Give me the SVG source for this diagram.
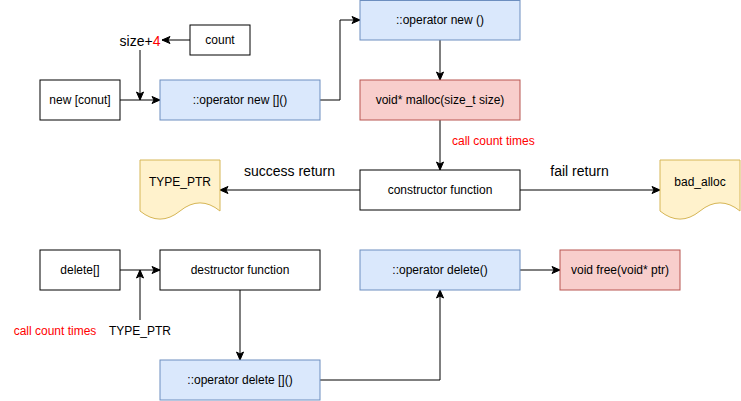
<svg xmlns="http://www.w3.org/2000/svg" width="741" height="401" viewBox="0 0 741 401">
<style>
text{font-family:"Liberation Sans",Arial,sans-serif;font-size:12px;fill:#000;}
.c{text-anchor:middle;dominant-baseline:central;}
.lg{font-size:14px;}
.red{fill:#ff0000;}
.plain{fill:#ffffff;stroke:#000000;stroke-width:1;}
.blue{fill:#dae8fc;stroke:#6c8ebf;stroke-width:1;}
.pink{fill:#f8cecc;stroke:#b85450;stroke-width:1;}
.doc{fill:#fff2cc;stroke:#d6b656;stroke-width:1;}
.edge{fill:none;stroke:#000;stroke-width:1;marker-end:url(#arr);}
</style>
<defs>
<marker id="arr" markerUnits="userSpaceOnUse" markerWidth="10" markerHeight="10" refX="9" refY="5" orient="auto">
<path d="M1,1.5 L9,5 L1,8.5 L3,5 Z" fill="#000" stroke="#000" stroke-width="1"/>
</marker>
</defs>
<rect width="741" height="401" fill="#ffffff"/>
<g id="connectors">
<path class="edge" d="M190,40 L162,40"/>
<path class="edge" d="M140,50 L140,100"/>
<path class="edge" d="M120,100 L160,100"/>
<path class="edge" d="M320,100 L340,100 L340,20 L360,20"/>
<path class="edge" d="M440,40 L440,80"/>
<path class="edge" d="M440,120 L440,170"/>
<path class="edge" d="M360,190 L220,190"/>
<path class="edge" d="M520,190 L660,190"/>
<path class="edge" d="M120,270 L160,270"/>
<path class="edge" d="M140,320 L140,270"/>
<path class="edge" d="M240,290 L240,360"/>
<path class="edge" d="M320,380 L440,380 L440,290"/>
<path class="edge" d="M520,270 L560,270"/>
</g>
<g id="labels">
<text class="lg" x="140" y="46" text-anchor="middle">size+<tspan class="red">4</tspan></text>
<text class="red" x="452" y="145">call count times</text>
<text class="c lg" x="289.5" y="171">success return</text>
<text class="c lg" x="579.5" y="171">fail return</text>
<text class="c red" x="55" y="331">call count times</text>
<text class="c" x="140" y="331">TYPE_PTR</text>
</g>
<g id="node-count"><rect class="plain" x="190" y="25" width="60" height="30"/><text class="c" x="220" y="40">count</text></g>
<g id="node-new-conut"><rect class="plain" x="40" y="80" width="80" height="40"/><text class="c" x="80" y="100">new [conut]</text></g>
<g id="node-operator-new-array"><rect class="blue" x="160" y="80" width="160" height="40"/><text class="c" x="240" y="100">::operator new []()</text></g>
<g id="node-operator-new"><rect class="blue" x="360" y="0.5" width="160" height="39.5"/><text class="c" x="440" y="20">::operator new ()</text></g>
<g id="node-malloc"><rect class="pink" x="360" y="80" width="160" height="40"/><text class="c" x="440" y="100">void* malloc(size_t size)</text></g>
<g id="node-constructor"><rect class="plain" x="360" y="170" width="160" height="40"/><text class="c" x="440" y="190">constructor function</text></g>
<g id="node-type-ptr"><path class="doc" d="M140,160 L220,160 L220,211 Q200,194.8 180,211 Q160,227.2 140,211 Z"/><text class="c" x="180" y="182">TYPE_PTR</text></g>
<g id="node-bad-alloc"><path class="doc" d="M660,160 L740,160 L740,211 Q720,194.8 700,211 Q680,227.2 660,211 Z"/><text class="c" x="700" y="182">bad_alloc</text></g>
<g id="node-delete-array"><rect class="plain" x="40" y="250" width="80" height="40"/><text class="c" x="80" y="270">delete[]</text></g>
<g id="node-destructor"><rect class="plain" x="160" y="250" width="160" height="40"/><text class="c" x="240" y="270">destructor function</text></g>
<g id="node-operator-delete"><rect class="blue" x="360" y="250" width="160" height="40"/><text class="c" x="440" y="270">::operator delete()</text></g>
<g id="node-free"><rect class="pink" x="560" y="250" width="120" height="40"/><text class="c" x="620" y="270">void free(void* ptr)</text></g>
<g id="node-operator-delete-array"><rect class="blue" x="160" y="360" width="160" height="40"/><text class="c" x="240" y="380">::operator delete []()</text></g>
</svg>
